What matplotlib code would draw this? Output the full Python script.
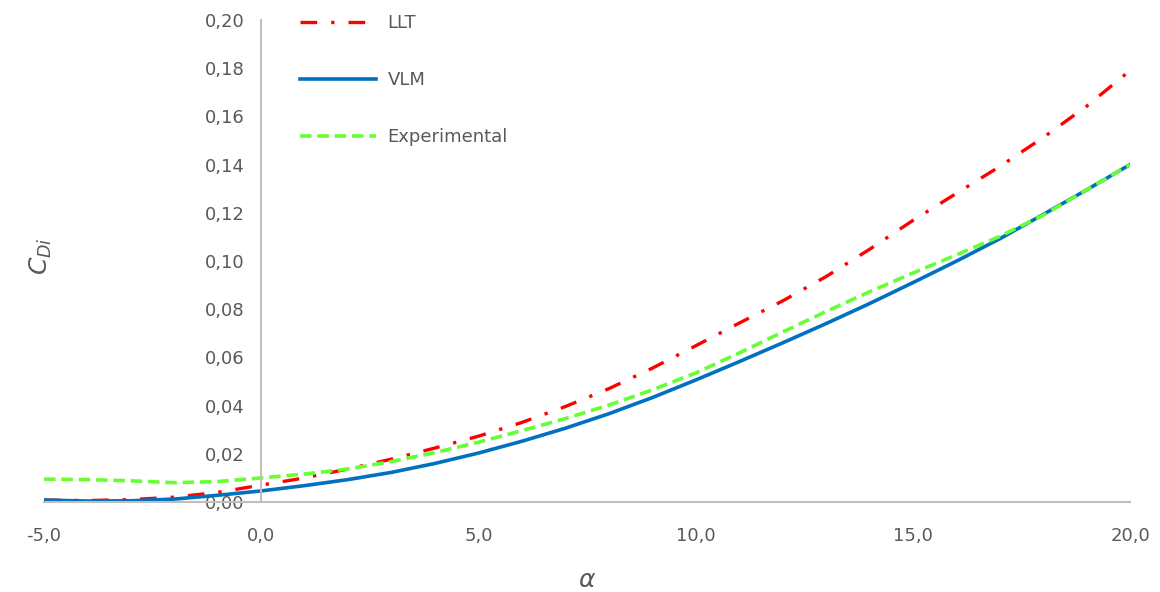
import matplotlib
matplotlib.use('Agg')
import matplotlib.pyplot as plt
from matplotlib.ticker import FuncFormatter

# angle of attack (deg)
alpha = [-5, -4, -3, -2, -1, 0, 1, 2, 3, 4, 5, 6, 7, 8, 9, 10,
         11, 12, 13, 14, 15, 16, 17, 18, 19, 20]

llt = [0.0008, 0.0006, 0.0010, 0.0020, 0.0040, 0.0070, 0.0100, 0.0137, 0.0178,
       0.0224, 0.0273, 0.0330, 0.0396, 0.0470, 0.0555, 0.0648, 0.0742, 0.0834,
       0.0935, 0.1048, 0.1168, 0.1280, 0.1392, 0.1512, 0.1642, 0.1790]

vlm = [0.0008, 0.0004, 0.0005, 0.0012, 0.0028, 0.0046, 0.0068, 0.0093, 0.0123,
       0.0160, 0.0203, 0.0252, 0.0306, 0.0366, 0.0433, 0.0506, 0.0582, 0.0660,
       0.0740, 0.0823, 0.0910, 0.0999, 0.1092, 0.1193, 0.1295, 0.1400]

exp = [0.0095, 0.0093, 0.0088, 0.0080, 0.0085, 0.0100, 0.0116, 0.0137, 0.0168,
       0.0205, 0.0248, 0.0296, 0.0346, 0.0402, 0.0465, 0.0535, 0.0618, 0.0705,
       0.0790, 0.0872, 0.0950, 0.1025, 0.1102, 0.1190, 0.1295, 0.1400]

xticks = [-5, 0, 5, 10, 15, 20]
yticks = [0.00, 0.02, 0.04, 0.06, 0.08, 0.10, 0.12, 0.14, 0.16, 0.18, 0.20]

grey = '#595959'
plt.rcParams['font.family'] = 'DejaVu Sans'

fig = plt.figure(figsize=(11.6, 5.92), dpi=100)
ax = fig.add_axes([44 / 1160, 90 / 592, 1086 / 1160, 482 / 592])

l1, = ax.plot(alpha, llt, color='#FF0000', lw=2.4, label='LLT')
l1.set_dashes([5, 4.2, 1.0, 4.2])
ax.plot(alpha, vlm, color='#0070C0', lw=2.6, label='VLM')
l3, = ax.plot(alpha, exp, color='#66FF33', lw=2.6, label='Experimental')
l3.set_dashes([3.2, 1.6])

ax.set_xlim(-5, 20)
ax.set_ylim(0, 0.20)
ax.set_xticks(xticks)
ax.set_yticks(yticks)
ax.xaxis.set_major_formatter(FuncFormatter(lambda v, p: f'{v:.1f}'.replace('.', ',')))
ax.yaxis.set_major_formatter(FuncFormatter(lambda v, p: f'{v:.2f}'.replace('.', ',')))
ax.tick_params(length=0, labelsize=13, colors=grey)
ax.tick_params(axis='x', pad=18)
ax.tick_params(axis='y', pad=12)

for s in ['top', 'right']:
    ax.spines[s].set_visible(False)
ax.spines['left'].set_position(('data', 0))
for s in ['left', 'bottom']:
    ax.spines[s].set_color('#BFBFBF')
    ax.spines[s].set_linewidth(1.5)

ax.set_xlabel(r'$\alpha$', fontsize=18, color=grey)
ax.xaxis.set_label_coords(0.5, -0.137)
ax.set_ylabel(r'$C_{Di}$', fontsize=18, color=grey)
ax.yaxis.set_label_coords(0.009, 0.51)

leg = ax.legend(loc='upper left', bbox_to_anchor=(0.2357, 1.012), frameon=False,
                fontsize=13, handlelength=4.2, handletextpad=0.65,
                labelspacing=2.15, borderpad=0, borderaxespad=0)
for t in leg.get_texts():
    t.set_color(grey)

fig.savefig('out.png', dpi=100)
